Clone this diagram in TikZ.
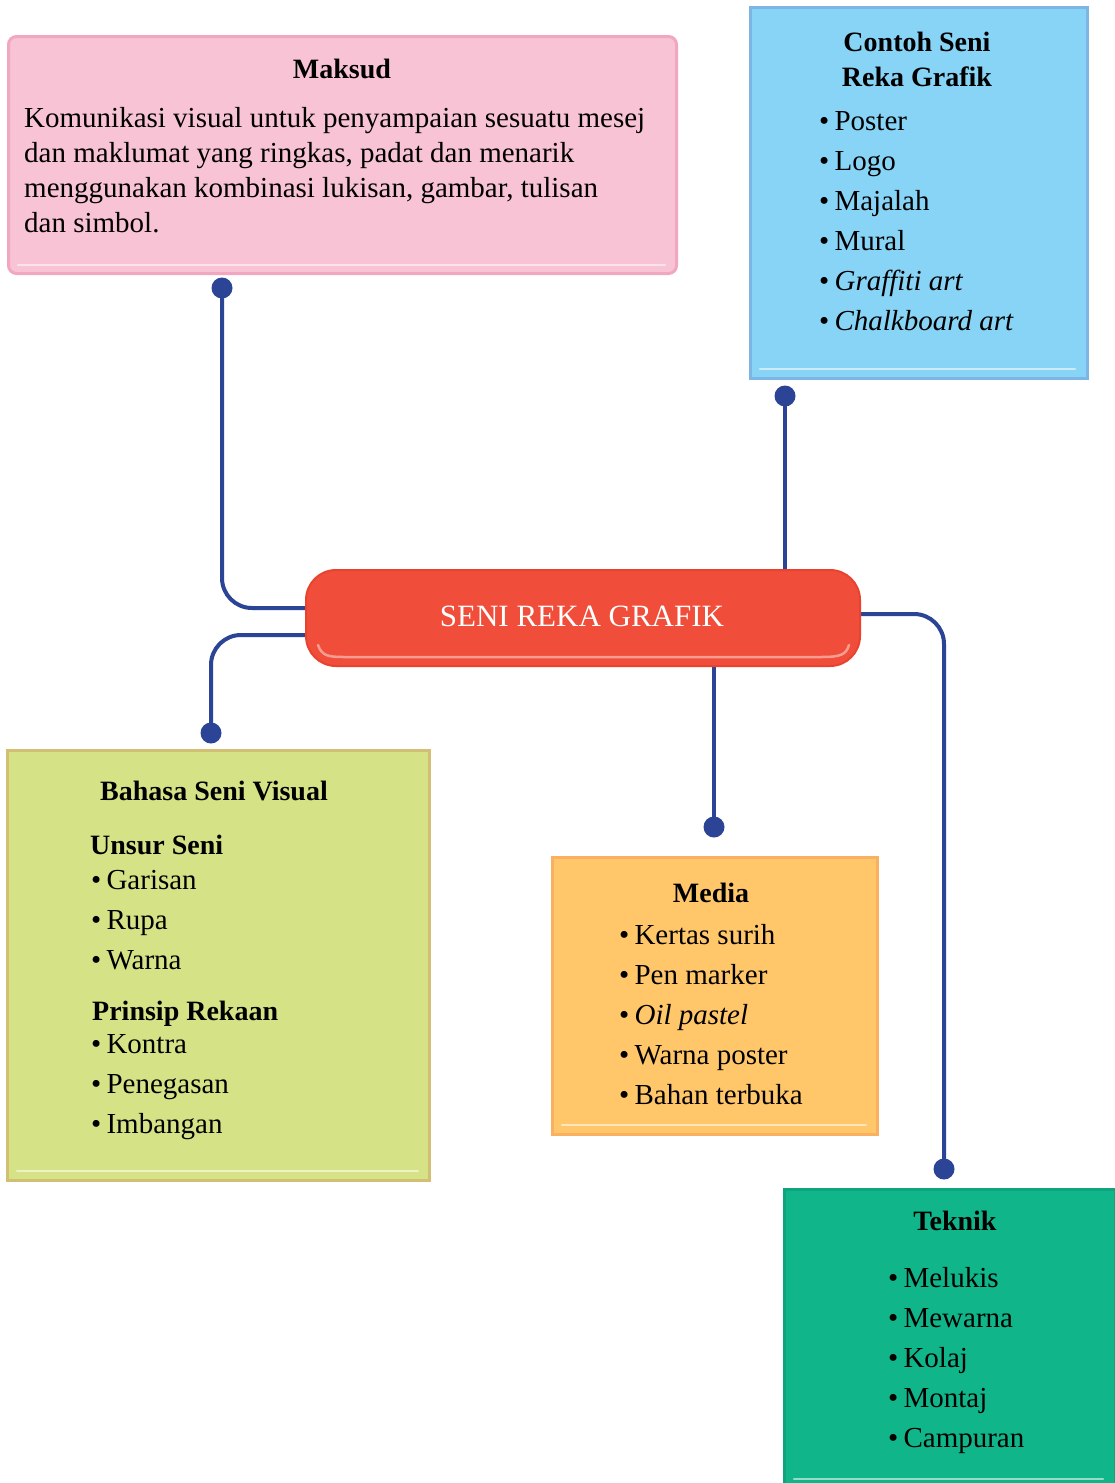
\documentclass[tikz,border=0pt]{standalone}
\usepackage{fontspec}
\setmainfont{Liberation Serif}
\definecolor{pinkfill}{HTML}{F8C3D5}
\definecolor{pinkedge}{HTML}{F2A7C1}
\definecolor{bluefill}{HTML}{88D4F6}
\definecolor{blueedge}{HTML}{7DB6E4}
\definecolor{redfill}{HTML}{F04E3A}
\definecolor{rededge}{HTML}{E9432F}
\definecolor{limefill}{HTML}{D5E286}
\definecolor{limeedge}{HTML}{D3BF74}
\definecolor{orangefill}{HTML}{FFC76A}
\definecolor{orangeedge}{HTML}{F9B060}
\definecolor{tealfill}{HTML}{10B589}
\definecolor{tealedge}{HTML}{0FA47C}
\definecolor{connblue}{HTML}{2B4495}
\newcommand{\bul}{•\hspace{0.18em}}
\begin{document}
\begin{tikzpicture}[x=1pt,y=-1pt,
  box/.style={draw, line width=3pt, anchor=north west, inner sep=0pt},
  conn/.style={draw=connblue, line width=4pt},
  dot/.style={circle, fill=connblue, inner sep=0pt, minimum size=21pt},
  txt/.style={anchor=base west, inner sep=0pt, font=\fontsize{29}{34}\selectfont},
  ttl/.style={anchor=base, inner sep=0pt, font=\fontsize{28}{32}\selectfont\bfseries},
  sub/.style={anchor=base west, inner sep=0pt, font=\fontsize{28}{32}\selectfont\bfseries},
  shine/.style={draw=white, line width=2.5pt, opacity=0.55, line cap=round}
]
\useasboundingbox (0,0) rectangle (1114,1483);
\fill[white] (0,0) rectangle (1114,1483);

% boxes
\node[box, draw=pinkedge, fill=pinkfill, rounded corners=8pt, minimum width=668pt, minimum height=237pt] (maksud) at (7,35) {};
\node[box, draw=blueedge, fill=bluefill, minimum width=337pt, minimum height=371pt] (contoh) at (749,6) {};
\node[box, draw=limeedge, fill=limefill, minimum width=422pt, minimum height=430pt] (bahasa) at (6,749) {};
\node[box, draw=orangeedge, fill=orangefill, minimum width=325pt, minimum height=277pt] (media) at (551,856) {};
\node[box, draw=tealedge, fill=tealfill, minimum width=331pt, minimum height=300pt] (teknik) at (783,1188) {};

% box shines
\draw[shine] (18,265) -- (665,265);
\draw[shine] (760,369) -- (1075,369);
\draw[shine] (17,1171) -- (418,1171);
\draw[shine] (562,1125) -- (866,1125);
\draw[shine] (794,1479) -- (1103,1479);

% dots
\node[dot] (dM) at (222,288) {};
\node[dot] (dC) at (785,396) {};
\node[dot] (dB) at (211,733) {};
\node[dot] (dD) at (714,827) {};
\node[dot] (dT) at (944,1169) {};

\coordinate (jM) at (320,608);
\coordinate (jB) at (320,635);
\coordinate (jC) at (785,580);
\coordinate (jD) at (714,655);
\coordinate (jT) at (845,614);

% connectors
\draw[conn, rounded corners=30pt] (dM.center) |- (jM);
\draw[conn, rounded corners=30pt] (jB) -| (dB.center);
\draw[conn] (dC.center) -- (jC);
\draw[conn] (jD) -- (dD.center);
\draw[conn, rounded corners=30pt] (jT) -| (dT.center);

% central node
\node[draw=rededge, line width=2pt, fill=redfill, rounded corners=30pt, minimum width=554pt, minimum height=96pt, inner sep=0pt] (seni) at (583,618) {};
\draw[shine, opacity=0.45] (318,645) .. controls (322,656) and (328,657) .. (345,657) -- (821,657) .. controls (840,657) and (846,655) .. (849,645);
\node[anchor=base, inner sep=0pt, text=white, font=\fontsize{31}{34}\selectfont] (seniT) at (582,626) {SENI REKA GRAFIK};

% Maksud text
\node[ttl] (mT) at (342,78) {Maksud};
\node[txt] (m1) at (24,127) {Komunikasi visual untuk penyampaian sesuatu mesej};
\node[txt] (m2) at (24,162) {dan maklumat yang ringkas, padat dan menarik};
\node[txt] (m3) at (24,197) {menggunakan kombinasi lukisan, gambar, tulisan};
\node[txt] (m4) at (24,232) {dan simbol.};

% Contoh text
\node[ttl] (cT1) at (917,51) {Contoh Seni};
\node[ttl] (cT2) at (917,86) {Reka Grafik};
\node[txt] (c1) at (819,130) {\bul Poster};
\node[txt] (c2) at (819,170) {\bul Logo};
\node[txt] (c3) at (819,210) {\bul Majalah};
\node[txt] (c4) at (819,250) {\bul Mural};
\node[txt] (c5) at (819,290) {\bul \textit{Graffiti art}};
\node[txt] (c6) at (819,330) {\bul \textit{Chalkboard art}};

% Bahasa text
\node[ttl] (bT) at (214,800) {Bahasa Seni Visual};
\node[sub] (bS1) at (90,854) {Unsur Seni};
\node[txt] (b1) at (91,889) {\bul Garisan};
\node[txt] (b2) at (91,929) {\bul Rupa};
\node[txt] (b3) at (91,969) {\bul Warna};
\node[sub] (bS2) at (92,1020) {Prinsip Rekaan};
\node[txt] (b4) at (91,1053) {\bul Kontra};
\node[txt] (b5) at (91,1093) {\bul Penegasan};
\node[txt] (b6) at (91,1133) {\bul Imbangan};

% Media text
\node[ttl] (dTt) at (711,902) {Media};
\node[txt] (d1) at (619,944) {\bul Kertas surih};
\node[txt] (d2) at (619,984) {\bul Pen marker};
\node[txt] (d3) at (619,1024) {\bul \textit{Oil pastel}};
\node[txt] (d4) at (619,1064) {\bul Warna poster};
\node[txt] (d5) at (619,1104) {\bul Bahan terbuka};

% Teknik text
\node[ttl] (tT) at (955,1230) {Teknik};
\node[txt] (t1) at (888,1287) {\bul Melukis};
\node[txt] (t2) at (888,1327) {\bul Mewarna};
\node[txt] (t3) at (888,1367) {\bul Kolaj};
\node[txt] (t4) at (888,1407) {\bul Montaj};
\node[txt] (t5) at (888,1447) {\bul Campuran};
\end{tikzpicture}
\end{document}
